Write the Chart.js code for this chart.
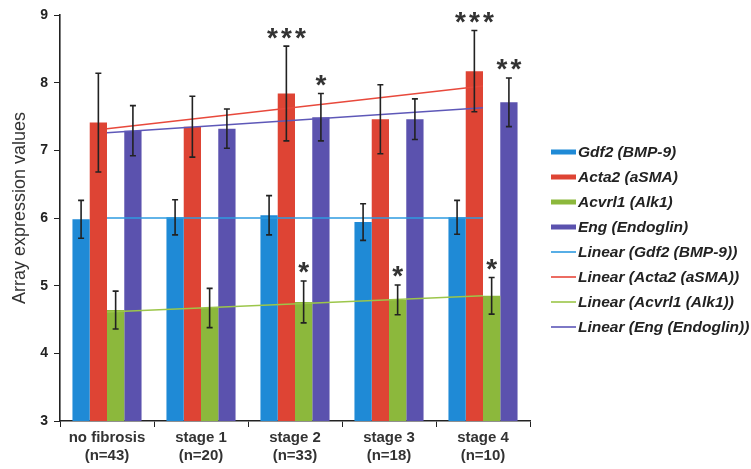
<!DOCTYPE html>
<html><head><meta charset="utf-8">
<script src="https://cdn.jsdelivr.net/npm/chart.js@4.4.0/dist/chart.umd.min.js"></script>
<style>html,body{margin:0;padding:0;background:#fff;}canvas{display:block;}</style>
</head><body>
<canvas id="c" width="751" height="469"></canvas>
<script>
const categories = [["no fibrosis","(n=43)"],["stage 1","(n=20)"],["stage 2","(n=33)"],["stage 3","(n=18)"],["stage 4","(n=10)"]];
const seriesNames = ["Gdf2 (BMP-9)","Acta2 (aSMA)","Acvrl1 (Alk1)","Eng (Endoglin)"];
const yTitle = "Array expression values";
const gdf2 = [5.98, 6.01, 6.04, 5.94, 6.01];
const acta2 = [7.41, 7.35, 7.84, 7.46, 8.17];
const acvrl1 = [4.64, 4.67, 4.76, 4.79, 4.85];
const eng = [7.29, 7.32, 7.49, 7.46, 7.71];
const gdf2Err = [0.28, 0.26, 0.29, 0.27, 0.25];
const acta2Err = [0.73, 0.45, 0.70, 0.51, 0.60];
const acvrl1Err = [0.28, 0.29, 0.31, 0.22, 0.27];
const engErr = [0.37, 0.29, 0.35, 0.30, 0.36];
const gdf2Trend = [6.00, null, null, null, 6.00];
const acta2Trend = [7.32, null, null, null, 7.95];
const acvrl1Trend = [4.61, null, null, null, 4.85];
const engTrend = [7.26, null, null, null, 7.63];
const stars = [
  {series:1, cat:2, text:"***"},
  {series:3, cat:2, text:"*"},
  {series:2, cat:2, text:"*"},
  {series:2, cat:3, text:"*"},
  {series:1, cat:4, text:"***"},
  {series:3, cat:4, text:"**"},
  {series:2, cat:4, text:"*"}
];
const yTicks = [3,4,5,6,7,8,9];
const colors = ["#1f8ad6","#de4434","#8cb83c","#5b52ae"];
const lineColors = ["#2e9be0","#e8493c","#9cc64a","#5e58b8"];
const values = [gdf2, acta2, acvrl1, eng];
const errs = [gdf2Err, acta2Err, acvrl1Err, engErr];
const trends = [gdf2Trend, acta2Trend, acvrl1Trend, engTrend];
const FONT = "'Liberation Sans', Arial, sans-serif";

const datasets = [];
for (let i=0;i<4;i++) datasets.push({type:'bar', label:seriesNames[i], data:values[i], backgroundColor:colors[i], borderWidth:0, order:2, categoryPercentage:0.735, barPercentage:1.0});
for (let i=0;i<4;i++) datasets.push({type:'line', label:'Linear ('+seriesNames[i]+')', data:trends[i], borderColor:lineColors[i], borderWidth:1.6, pointRadius:0, spanGaps:true, fill:false, order:1});

const overlay = {
  id:'overlay',
  afterDatasetsDraw(chart){
    const ctx = chart.ctx, y = chart.scales.y;
    ctx.save();
    ctx.strokeStyle = '#222'; ctx.lineWidth = 1.6;
    const tops = [];
    for (let s=0;s<4;s++){
      const meta = chart.getDatasetMeta(s);
      tops[s]=[];
      meta.data.forEach((bar,i)=>{
        const x = bar.x;
        const t = y.getPixelForValue(values[s][i]+errs[s][i]);
        const b = y.getPixelForValue(values[s][i]-errs[s][i]);
        tops[s][i]={x,t};
        ctx.beginPath();
        ctx.moveTo(x,t); ctx.lineTo(x,b);
        ctx.moveTo(x-3,t); ctx.lineTo(x+3,t);
        ctx.moveTo(x-3,b); ctx.lineTo(x+3,b);
        ctx.stroke();
      });
    }
    ctx.fillStyle = '#333';
    ctx.font = "bold 28px " + FONT;
    ctx.textAlign = 'center'; ctx.textBaseline = 'alphabetic';
    stars.forEach(st=>{
      const p = tops[st.series][st.cat];
      const n = st.text.length, pitch = 14;
      for (let k=0;k<n;k++){
        const cx = p.x + (k-(n-1)/2)*pitch;
        ctx.fillText('*', cx, p.t + 0.5);
      }
    });
    // y axis title
    ctx.save();
    ctx.translate(20, 208);
    ctx.rotate(-Math.PI/2);
    ctx.font = "18px " + FONT;
    ctx.fillStyle = '#333';
    ctx.textAlign = 'center'; ctx.textBaseline = 'middle';
    ctx.fillText(yTitle, 0, 0);
    ctx.restore();
    // legend
    const lx = 551, tx = 578;
    ctx.font = "italic bold 15.5px " + FONT;
    ctx.textAlign='left'; ctx.textBaseline='middle';
    for (let i=0;i<8;i++){
      const cy = 152 + i*25;
      if (i<4){ ctx.fillStyle = colors[i]; ctx.fillRect(lx, cy-2.5, 25, 5); }
      else { ctx.fillStyle = lineColors[i-4]; ctx.fillRect(lx, cy-0.8, 25, 1.6); }
      ctx.fillStyle = '#222';
      ctx.fillText(i<4?seriesNames[i]:'Linear ('+seriesNames[i-4]+')', tx, cy+1);
    }
    ctx.restore();
  }
};

new Chart(document.getElementById('c'), {
  data:{labels:categories, datasets},
  options:{
    responsive:false, animation:false,
    layout:{padding:{left:0, right:221, top:15, bottom:0}},
    plugins:{legend:{display:false}, tooltip:{enabled:false}},
    scales:{
      x:{
        grid:{display:true, drawOnChartArea:false, drawTicks:true, tickLength:6, color:'#222', offset:true},
        border:{display:true, color:'#222', width:1.6},
        ticks:{color:'#333', font:{family:FONT, size:15, weight:'bold'}, padding:2, maxRotation:0},
        afterFit(s){ s.height = 48; }
      },
      y:{
        min:3, max:9,
        afterBuildTicks(s){ s.ticks = yTicks.map(v=>({value:v})); },
        grid:{display:true, drawOnChartArea:false, drawTicks:true, tickLength:6, color:'#222'},
        border:{display:true, color:'#222', width:1.6},
        ticks:{color:'#222', font:{family:FONT, size:14, weight:'bold'}, padding:6},
        title:{display:false},
        afterFit(s){ s.width = 60; }
      }
    }
  },
  plugins:[overlay]
});
</script>
</body></html>
